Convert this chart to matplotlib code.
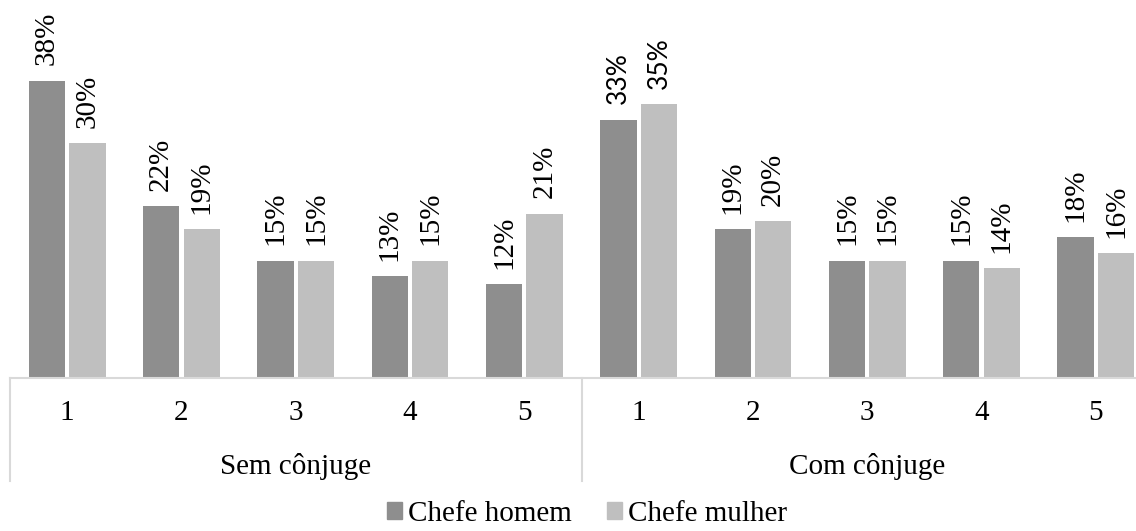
"""
Distribuição por quintil: chefe homem vs chefe mulher, sem e com cônjuge.
"""

import matplotlib
matplotlib.use("Agg")
import matplotlib.pyplot as plt
from matplotlib.patches import Patch
import numpy as np

plt.rcParams["font.family"] = ["Liberation Serif", "DejaVu Serif"]

# =========================================================
# DATA
# =========================================================

groups = ["Sem cônjuge", "Com cônjuge"]
quintis = ["1", "2", "3", "4", "5"]
series = ["Chefe homem", "Chefe mulher"]

homem = [38, 22, 15, 13, 12, 33, 19, 15, 15, 18]
mulher = [30, 19, 15, 15, 21, 35, 20, 15, 14, 16]

COR_HOMEM = "#8e8e8e"
COR_MULHER = "#bfbfbf"
COR_LINHA = "#d9d9d9"
FS = 21

# =========================================================
# FIGURE
# =========================================================

W, H = 1136, 531
fig = plt.figure(figsize=(W / 100, H / 100), dpi=100)

base = 378
ax = fig.add_axes([10 / W, (H - base) / H, 1143 / W, base / H])

n = len(homem)
x = np.arange(n) + 0.5
width = 0.318
off = 0.177

ax.bar(x - off, homem, width, color=COR_HOMEM, edgecolor="none")
ax.bar(x + off, mulher, width, color=COR_MULHER, edgecolor="none")

ax.set_xlim(0, n)
ax.set_ylim(0, 48.3)

# rótulos de valor (os dois maiores do grupo "Com cônjuge" em fonte sem serifa)
for i in range(n):
    for xi, v in ((x[i] - off, homem[i]), (x[i] + off, mulher[i])):
        kw = dict(fontsize=FS)
        if i == 5:
            kw = dict(fontsize=19, family=["Lato", "DejaVu Sans"])
        ax.annotate(
            f"{v}%",
            xy=(xi, v),
            xytext=(0, 11),
            textcoords="offset points",
            rotation=90,
            ha="center",
            va="bottom",
            **kw
        )

# eixo de categorias
for s in ["top", "right", "left"]:
    ax.spines[s].set_visible(False)
ax.spines["bottom"].set_color(COR_LINHA)
ax.spines["bottom"].set_linewidth(1.5)
ax.set_yticks([])

ax.set_xticks(x)
ax.set_xticklabels(quintis * len(groups), fontsize=FS)
ax.tick_params(axis="x", length=0, pad=16)

depth = (481 - base) / base
for xv in [0, 5, 10]:
    ax.plot([xv, xv], [0, -depth], color=COR_LINHA, lw=1.5,
            transform=ax.get_xaxis_transform(), clip_on=False)

for g, name in enumerate(groups):
    ax.text(g * 5 + 2.5, -(474 - base) / base, name, fontsize=FS,
            ha="center", va="baseline", transform=ax.get_xaxis_transform())

# legenda
handles = [Patch(color=COR_HOMEM), Patch(color=COR_MULHER)]
fig.legend(
    handles,
    series,
    loc="center",
    bbox_to_anchor=(587 / W, 1 - 514 / H),
    ncol=2,
    frameon=False,
    fontsize=FS,
    handlelength=0.52,
    handleheight=0.52,
    handletextpad=0.2,
    columnspacing=1.2,
    borderpad=0,
)

fig.savefig("out.png", dpi=100)
